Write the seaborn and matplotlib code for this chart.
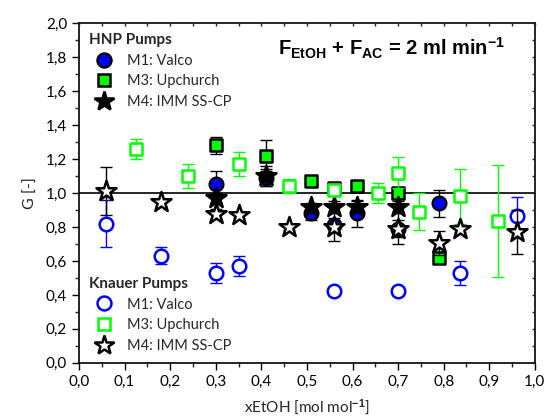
import numpy as np
import pandas as pd
import matplotlib
matplotlib.use("Agg")
import matplotlib.pyplot as plt
import seaborn as sns
from matplotlib.lines import Line2D
from matplotlib.ticker import MultipleLocator, FuncFormatter

# HNP pumps (filled markers)
hnp_m1_x = [0.30, 0.41, 0.51, 0.56, 0.61, 0.70, 0.79]
hnp_m1_y = [1.05, 1.09, 0.88, 0.81, 0.88, 0.79, 0.94]
hnp_m1_err = [0.08, 0.05, 0.04, 0.04, 0.08, 0.05, 0.08]

hnp_m3_x = [0.30, 0.41, 0.51, 0.56, 0.61, 0.70, 0.79]
hnp_m3_y = [1.28, 1.22, 1.07, 1.03, 1.04, 1.00, 0.62]
hnp_m3_err = [0.05, 0.09, 0.01, 0.02, 0.03, 0.02, 0.03]

hnp_m4_x = [0.30, 0.41, 0.51, 0.56, 0.61, 0.70]
hnp_m4_y = [0.97, 1.10, 0.92, 0.92, 0.92, 0.92]
hnp_m4_err = [0.03, 0.06, 0.02, 0.03, 0.03, 0.03]

# Knauer pumps (open markers)
kn_m1_x = [0.06, 0.18, 0.30, 0.35, 0.56, 0.70, 0.835, 0.96]
kn_m1_y = [0.82, 0.63, 0.53, 0.57, 0.42, 0.42, 0.53, 0.865]
kn_m1_err = [0.14, 0.05, 0.06, 0.06, 0.02, 0.02, 0.07, 0.11]

kn_m3_x = [0.125, 0.24, 0.35, 0.46, 0.56, 0.655, 0.70, 0.745, 0.835, 0.92]
kn_m3_y = [1.26, 1.10, 1.17, 1.04, 1.02, 1.00, 1.12, 0.89, 0.98, 0.835]
kn_m3_err = [0.06, 0.07, 0.07, 0.04, 0.03, 0.06, 0.09, 0.11, 0.16, 0.33]

kn_m4_x = [0.06, 0.18, 0.30, 0.35, 0.46, 0.56, 0.70, 0.79, 0.835, 0.96]
kn_m4_y = [1.01, 0.945, 0.875, 0.87, 0.80, 0.80, 0.79, 0.705, 0.79, 0.77]
kn_m4_err = [0.14, 0.02, 0.03, 0.02, 0.02, 0.08, 0.09, 0.07, 0.02, 0.13]

sns.set_style("ticks")
plt.rcParams["font.family"] = ["Lato", "DejaVu Sans"]
plt.rcParams["mathtext.fontset"] = "custom"
plt.rcParams["mathtext.rm"] = "Liberation Sans:bold"
plt.rcParams["mathtext.it"] = "Liberation Sans:bold"
plt.rcParams["mathtext.bf"] = "Liberation Sans:bold"

fig = plt.figure(figsize=(5.52, 4.19), dpi=100)
ax = fig.add_axes([0.143, 0.134, 0.826, 0.811])

blue = "#0000ff"
green = "#00ff00"

series = [
    # x, y, err, marker, size, face, edge, errcolor
    (hnp_m1_x, hnp_m1_y, hnp_m1_err, "o", 95, blue, "black", "black"),
    (hnp_m3_x, hnp_m3_y, hnp_m3_err, "s", 80, green, "black", "black"),
    (hnp_m4_x, hnp_m4_y, hnp_m4_err, "*", 230, "black", "black", "black"),
    (kn_m1_x, kn_m1_y, kn_m1_err, "o", 95, "white", blue, blue),
    (kn_m3_x, kn_m3_y, kn_m3_err, "s", 80, "white", green, green),
    (kn_m4_x, kn_m4_y, kn_m4_err, "*", 230, "white", "black", "black"),
]

ax.axhline(1.0, color="black", lw=1.2, zorder=1)

for i, (x, y, e, m, s, fc, ec, errc) in enumerate(series):
    ax.errorbar(x, y, yerr=e, fmt="none", ecolor=errc, elinewidth=1.0,
                capsize=4, capthick=1.0, zorder=2 + i)
    df = pd.DataFrame({"x": x, "y": y})
    sns.scatterplot(data=df, x="x", y="y", marker=m, s=s, color=fc,
                    edgecolor=ec, linewidth=1.8, ax=ax, zorder=3 + i,
                    legend=False)

ax.set_xlim(0, 1.0)
ax.set_ylim(0, 2.0)
ax.xaxis.set_major_locator(MultipleLocator(0.1))
ax.xaxis.set_minor_locator(MultipleLocator(0.05))
ax.yaxis.set_major_locator(MultipleLocator(0.2))
ax.yaxis.set_minor_locator(MultipleLocator(0.1))
comma = FuncFormatter(lambda v, p: f"{v:.1f}".replace(".", ","))
ax.xaxis.set_major_formatter(comma)
ax.yaxis.set_major_formatter(comma)

for sp in ax.spines.values():
    sp.set_visible(True)
    sp.set_linewidth(1.2)
    sp.set_color("black")

ax.tick_params(which="major", direction="out", length=5, width=1.0,
               labelsize=11, colors="black")
ax.tick_params(which="minor", direction="out", length=3, width=1.0)

# tiny inner ticks on top and right
axr = ax.twinx()
axr.set_ylim(0, 2.0)
axr.yaxis.set_major_locator(MultipleLocator(0.1))
axr.tick_params(direction="in", length=2, labelright=False, width=1.0)
axt = ax.twiny()
axt.set_xlim(0, 1.0)
axt.xaxis.set_major_locator(MultipleLocator(0.05))
axt.tick_params(direction="in", length=2, labeltop=False, width=1.0)
for a in (axr, axt):
    for sp in a.spines.values():
        sp.set_visible(False)

ax.set_xlabel("xEtOH [mol mol$^{-1}$]", fontsize=11, labelpad=6)
ax.set_ylabel("G [-]", fontsize=11.5, labelpad=6)

ax.text(0.436, 1.81, r"F$_{EtOH}$ + F$_{AC}$ = 2 ml min$^{-1}$",
        fontsize=14.5, fontweight="bold", family="Liberation Sans",
        color="black")

def handles(face_list, edge_list):
    h = []
    for m, fc, ec, ms in zip(["o", "s", "*"], face_list, edge_list, [10, 9, 15]):
        h.append(Line2D([], [], linestyle="none", marker=m, markersize=ms,
                        markerfacecolor=fc, markeredgecolor=ec,
                        markeredgewidth=1.8))
    return h

labels = ["M1: Valco", "M3: Upchurch", "M4: IMM SS-CP"]

leg1 = ax.legend(handles([blue, green, "black"], ["black", "black", "black"]),
                 labels, title="HNP Pumps", loc="upper left",
                 bbox_to_anchor=(0.0, 1.0), frameon=False, fontsize=10.5,
                 title_fontproperties={"weight": "bold", "size": 11},
                 alignment="left", handletextpad=0.6, labelspacing=0.45,
                 borderaxespad=0.3)
ax.add_artist(leg1)
leg2 = ax.legend(handles(["white", "white", "white"], [blue, green, "black"]),
                 labels, title="Knauer Pumps", loc="lower left",
                 bbox_to_anchor=(0.0, 0.0), frameon=False, fontsize=10.5,
                 title_fontproperties={"weight": "bold", "size": 11},
                 alignment="left", handletextpad=0.6, labelspacing=0.45,
                 borderaxespad=0.3)

fig.savefig("out.png", dpi=100)
